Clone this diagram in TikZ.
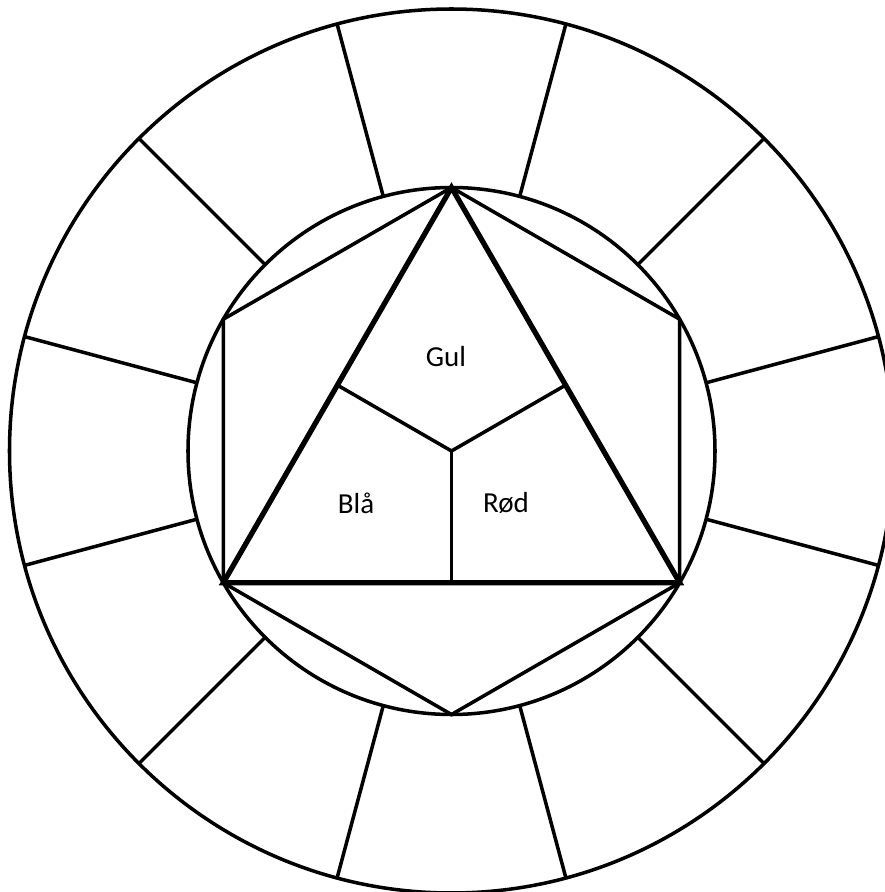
\documentclass[tikz,border=0pt]{standalone}
\usepackage{fontspec}
\setmainfont{Carlito}
\usepackage{tikz}

\begin{document}
\begin{tikzpicture}[x=0.02cm, y=0.02cm,
    ring/.style={line width=2pt},
    tri/.style={line width=3pt, line join=miter},
    colname/.style={font=\fontsize{16.5}{19}\selectfont}]

    \useasboundingbox (-451.5,-441) rectangle (433.5,451);

    % Circles
    \draw[ring] (0,0) circle (442);
    \draw[ring] (0,0) circle (263.5);

    % Outer ring segments
    \foreach \a in {15,45,...,345} {
        \draw[ring] (\a:263.5) -- (\a:442);
    }

    % Hexagon
    \foreach \a/\name in {90/h1,150/h2,210/h3,270/h4,330/h5,30/h6} {
        \coordinate (\name) at (\a:263.5);
    }
    \draw[ring, line join=miter] (h1) -- (h2) -- (h3) -- (h4) -- (h5) -- (h6) -- cycle;

    % Inner triangle
    \coordinate (c) at (0,0);
    \draw[tri] (h1) -- (h3) -- (h5) -- cycle;
    \foreach \a/\name in {150/m1,270/m2,30/m3} {
        \coordinate (\name) at (\a:131.75);
        \draw[ring] (c) -- (\name);
    }

    % Primary colours
    \node[colname] (gul) at (-5.5,94) {Gul};
    \node[colname] (bla) at (-95.5,-52) {Blå};
    \node[colname] (rod) at (54.5,-52) {Rød};
\end{tikzpicture}
\end{document}
